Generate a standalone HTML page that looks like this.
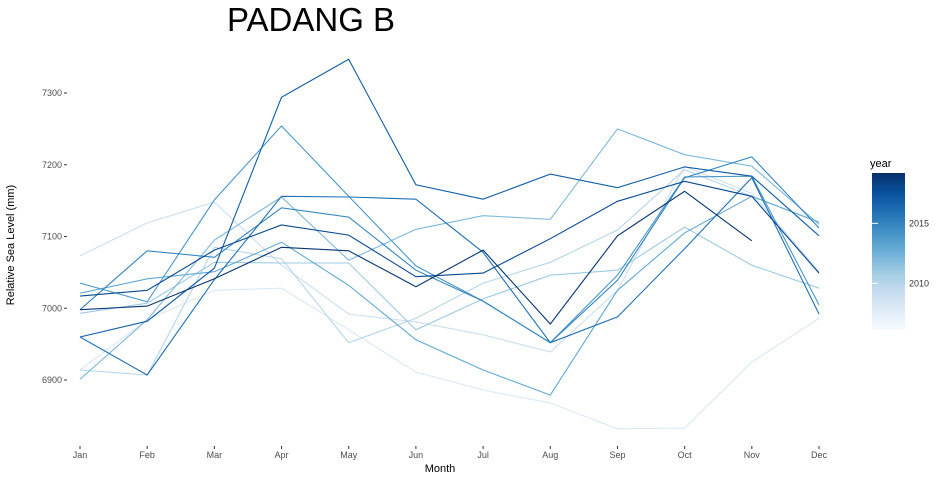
<!DOCTYPE html>
<html><head><meta charset="utf-8"><style>
body{margin:0;background:#fff;}
svg text{font-family:"Liberation Sans",sans-serif;}
</style></head><body>
<svg id="chart" width="940" height="480" xmlns="http://www.w3.org/2000/svg">
<text x="311" y="31" font-size="33" text-anchor="middle" fill="#000">PADANG B</text>
<g id="yaxis"></g>
<g id="xaxis"></g>
<g id="lines"></g>
<text x="440" y="472" font-size="11" text-anchor="middle">Month</text>
<text transform="translate(14,245) rotate(-90)" font-size="11" text-anchor="middle">Relative Sea Level (mm)</text>
<g>
<text x="870" y="167" font-size="11">year</text>
<defs><linearGradient id="cb" x1="0" y1="1" x2="0" y2="0">
<stop offset="0" stop-color="#f7fbff"/><stop offset="0.125" stop-color="#deebf7"/><stop offset="0.25" stop-color="#c6dbef"/><stop offset="0.375" stop-color="#9ecae1"/><stop offset="0.5" stop-color="#6baed6"/><stop offset="0.625" stop-color="#4292c6"/><stop offset="0.75" stop-color="#2171b5"/><stop offset="0.875" stop-color="#08519c"/><stop offset="1" stop-color="#08306b"/></linearGradient></defs>
<rect x="872" y="173" width="33" height="157" fill="url(#cb)"/>
<g id="cbticks"></g>
</g>
</svg>
<script>
const months=["Jan","Feb","Mar","Apr","May","Jun","Jul","Aug","Sep","Oct","Nov","Dec"];
const yTicks=[6900,7000,7100,7200,7300];
const years=[2008,2009,2010,2011,2012,2013,2014,2015,2016,2017,2018,2019];
const s2008=[6914,6984,7025,7028,6970,6911,6886,6868,6832,6833,6925,6986];
const s2009=[7073,7119,7148,7060,6992,6981,6963,6939,7025,7198,7160,7051];
const s2010=[6914,6907,7085,7069,6952,6986,7035,7064,7109,7193,7156,7051];
const s2011=[6993,7007,7064,7063,7063,6970,7013,7046,7053,7113,7060,7028];
const s2012=[6901,6984,7095,7155,7067,7110,7129,7124,7250,7214,7198,7117];
const s2013=[7021,7041,7051,7092,7032,6956,6914,6879,7025,7105,7156,7120];
const s2014=[7035,7009,7151,7254,7156,7059,7010,6952,7046,7183,7184,7005];
const s2015=[6998,7080,7071,7140,7127,7053,7010,6952,7039,7182,7211,7112];
const s2016=[6960,6907,7040,7156,7155,7152,7078,6952,6988,7083,7182,6992];
const s2017=[6960,6982,7056,7294,7347,7172,7152,7187,7168,7197,7184,7101];
const s2018=[7017,7025,7081,7116,7102,7044,7049,7097,7149,7177,7156,7049];
const s2019=[6998,7003,7041,7085,7080,7030,7081,6978,7101,7163,7094];
const series=[s2008,s2009,s2010,s2011,s2012,s2013,s2014,s2015,s2016,s2017,s2018,s2019];
const legendTicks=[2010,2015];

const NS="http://www.w3.org/2000/svg";
const X0=80,X1=819,Y0=93;
function xs(i){return X0+(X1-X0)*i/11;}
function ys(v){return Y0+(7300-v)*0.7175;}
function cs(y){return 330-(y-2006.1)*(157/13.1);}
const pal=["#f7fbff","#deebf7","#c6dbef","#9ecae1","#6baed6","#4292c6","#2171b5","#08519c","#08306b"];
function h2r(h){return [1,3,5].map(i=>parseInt(h.substr(i,2),16));}
function col(y){let t=(y-2006.1)/13.1;t=Math.max(0,Math.min(1,t))*(pal.length-1);const i=Math.min(pal.length-2,Math.floor(t)),f=t-i;const a=h2r(pal[i]),b=h2r(pal[i+1]);return "rgb("+a.map((c,k)=>Math.round(c+(b[k]-c)*f)).join(",")+")";}
function mk(tag,attrs,parent){const e=document.createElementNS(NS,tag);for(const k in attrs)e.setAttribute(k,attrs[k]);parent.appendChild(e);return e;}

const ya=document.getElementById('yaxis');
yTicks.forEach(v=>{
 const t=mk('text',{x:62,y:ys(v)+3,'font-size':9,'text-anchor':'end',fill:'#4d4d4d'},ya);
 t.textContent=v;
 
 
 const l=mk('line',{x1:64,x2:67,y1:ys(v),y2:ys(v),stroke:'#333','stroke-width':1},ya);
 
 
});
const xa=document.getElementById('xaxis');
months.forEach((m,i)=>{
 const l=mk('line',{x1:xs(i),x2:xs(i),y1:446,y2:449,stroke:'#333','stroke-width':1},xa);
 
 
 const t=mk('text',{x:xs(i),y:458,'font-size':9,'text-anchor':'middle',fill:'#4d4d4d'},xa);
 t.textContent=m;
 
 
});
const lg=document.getElementById('lines');
series.forEach((s,k)=>{
 const d=s.map((v,i)=>(i?'L':'M')+xs(i).toFixed(1)+','+ys(v).toFixed(1)).join('');
 const p=mk('path',{d:d,fill:'none',stroke:col(years[k]),'stroke-width':1.1},lg);
 
 
});
const cb=document.getElementById('cbticks');
legendTicks.forEach(y=>{
 const l=mk('line',{x1:872,x2:878,y1:cs(y),y2:cs(y),stroke:'#fff','stroke-width':1},cb);
 
 
 const t=mk('text',{x:909,y:cs(y)+3,'font-size':9,fill:'#333'},cb);
 t.textContent=y;
 
 
});
</script>
</body></html>
